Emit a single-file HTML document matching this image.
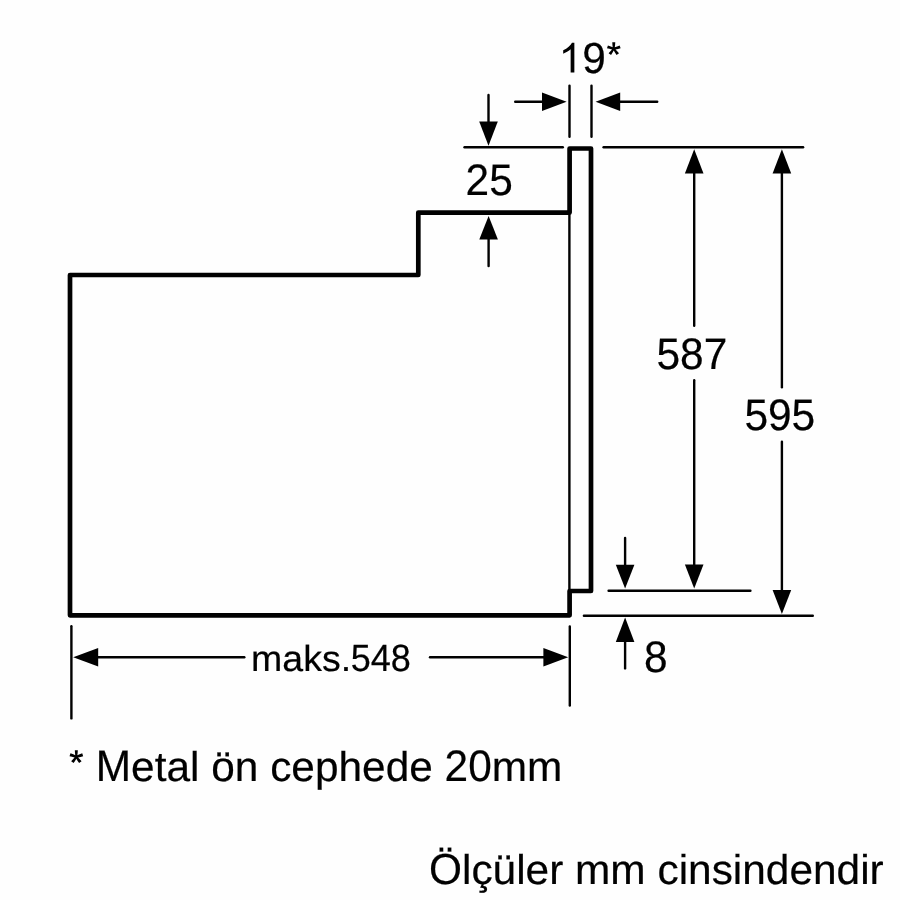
<!DOCTYPE html>
<html>
<head>
<meta charset="utf-8">
<style>
html,body{margin:0;padding:0;background:#fefefe;}
body{width:900px;height:900px;overflow:hidden;position:relative;font-family:"Liberation Sans",sans-serif;}
svg{position:absolute;left:0;top:0;display:block;opacity:0.999;will-change:transform;}
text{font-family:"Liberation Sans",sans-serif;fill:#000;stroke:#000;stroke-width:0.2px;text-rendering:geometricPrecision;}
</style>
</head>
<body>
<svg width="900" height="900" viewBox="0 0 900 900">
<rect width="900" height="900" fill="#fefefe"/>
<!-- thick outline -->
<g fill="none" stroke="#000" stroke-width="4.7" stroke-linejoin="round" stroke-linecap="butt">
<path d="M569.6,591 H591 V148.5 H569.6 V212.6 H418.3 V275 H70 V615.3 H569.6 Z"/>
</g>
<!-- thin lines -->
<g fill="none" stroke="#000" stroke-width="2.4" stroke-linecap="round">
<!-- door inner left -->
<path d="M569.4,214 V589"/>
<!-- 19* ext lines -->
<path d="M569.5,85.7 V136.8"/>
<path d="M591.5,85.7 V136.8"/>
<!-- 19* arrows shafts -->
<path d="M515.2,101.7 H545"/>
<path d="M618,101.7 H657.2"/>
<!-- top ext lines -->
<path d="M464.5,147.3 H562.8"/>
<path d="M603.6,147.3 H803.1"/>
<!-- 25 arrows shafts -->
<path d="M488.5,95 V124"/>
<path d="M488.6,237 V266.1"/>
<!-- 587 -->
<path d="M694.2,171 V325.8"/>
<path d="M694.2,380.3 V567"/>
<!-- 595 -->
<path d="M781.9,171 V387.2"/>
<path d="M781.9,441.8 V592"/>
<!-- bottom ext lines -->
<path d="M608.6,590.8 H750.4"/>
<path d="M583.9,615.7 H812.8"/>
<!-- 8 arrows -->
<path d="M625.1,537.9 V567"/>
<path d="M625.1,640 V668.4"/>
<!-- 548 ext -->
<path d="M71.4,626.2 V718.4"/>
<path d="M569.8,626.5 V705.5"/>
<path d="M96,657.3 H244.3"/>
<path d="M430,657.2 H546"/>
</g>
<!-- arrowheads -->
<g fill="#000" stroke="none">
<polygon points="566.6,101.7 542,92.4 542,111.0"/>
<polygon points="595.6,101.7 620.2,92.4 620.2,111.0"/>
<polygon points="488.5,145.8 479.2,121.6 497.8,121.6"/>
<polygon points="488.6,216.0 479.3,239.6 497.9,239.6"/>
<polygon points="694.2,149.2 684.9,173.4 703.5,173.4"/>
<polygon points="694.2,588.5 684.9,564.5 703.5,564.5"/>
<polygon points="781.9,149.2 772.6,173.4 791.2,173.4"/>
<polygon points="781.9,613.9 772.6,590.0 791.2,590.0"/>
<polygon points="625.1,588.6 615.8,564.8 634.4,564.8"/>
<polygon points="625.1,617.5 615.8,641.9 634.4,641.9"/>
<polygon points="73.2,657.3 98.2,648.0 98.2,666.6"/>
<polygon points="568.2,657.2 543.4,647.9 543.4,666.5"/>
</g>
<!-- text -->
<path transform="translate(558.6,72.6) scale(0.020654,-0.020313)" d="M763 0H583V1147Q518 1085 412.5 1023T223 930V1104Q374 1175 487 1276T647 1472H763Z"><title>1</title></path>
<text transform="translate(582.13,73) scale(1,1.025)" font-size="42.4">9</text>
<path transform="translate(605.65,72.6) scale(0.020654,-0.020313)" d="M64 1197L110 1339Q269 1283 341 1242Q322 1423 321 1491H466Q463 1392 443 1243Q546 1295 679 1339L725 1197Q598 1155 476 1141Q537 1088 648 952L528 867Q470 946 391 1082Q317 941 261 867L143 952Q259 1095 309 1141Q180 1166 64 1197Z"><title>*</title></path>
<text transform="translate(465.6,195) scale(1,1.04)" font-size="42.4">25</text>
<text transform="translate(656.5,368.6) scale(1,1.04)" font-size="42.4">587</text>
<text transform="translate(744.4,430.2) scale(1,1.04)" font-size="42.4">595</text>
<text transform="translate(644.1,672) scale(1,1.04)" font-size="42.4">8</text>
<text transform="translate(251.1,671) scale(1,0.97)" font-size="37.5">maks.</text>
<text transform="translate(350.7,671) scale(1,1.05)" font-size="36.1">548</text>
<path transform="translate(68.2,781) scale(0.020654,-0.020654)" d="M64 1197L110 1339Q269 1283 341 1242Q322 1423 321 1491H466Q463 1392 443 1243Q546 1295 679 1339L725 1197Q598 1155 476 1141Q537 1088 648 952L528 867Q470 946 391 1082Q317 941 261 867L143 952Q259 1095 309 1141Q180 1166 64 1197Z"><title>*</title></path>
<text transform="translate(95.78,781) scale(1,1.04)" font-size="42.4">M</text>
<text transform="translate(131.09,781) scale(1,0.985)" font-size="42.4">etal ön cephede</text>
<text transform="translate(444.58,781) scale(1,1.04)" font-size="42.4">20</text>
<text transform="translate(491.73,781) scale(1,0.985)" font-size="42.4">mm</text>
<text transform="translate(429.00,884) scale(1,1.025)" font-size="42.4">Ö</text>
<text transform="translate(461.98,884) scale(1,0.985)" font-size="42.4">lçüler mm cinsindendir</text>
</svg>
</body>
</html>
